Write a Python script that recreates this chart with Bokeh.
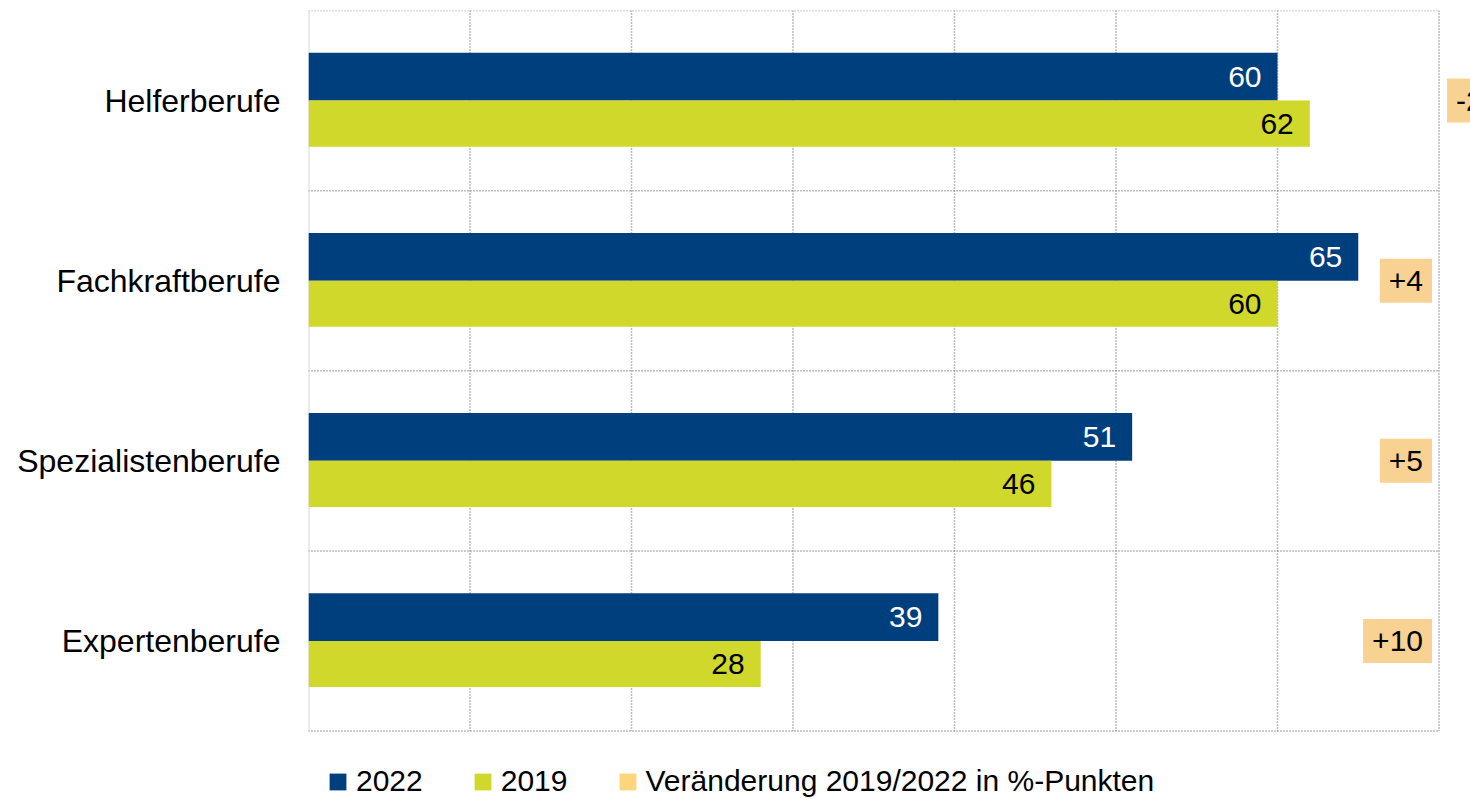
from bokeh.plotting import figure
from bokeh.models import Range1d, FixedTicker, ColumnDataSource, Legend, LegendItem
from bokeh.transform import dodge
from bokeh.core.properties import value
from bokeh.embed import file_html
from bokeh.resources import INLINE

# ---- data ----
categories = ["Helferberufe", "Fachkraftberufe", "Spezialistenberufe", "Expertenberufe"]
values_2022 = [60, 65, 51, 39]
values_2019 = [62, 60, 46, 28]
change_pp = [-2, 4, 5, 10]
x_ticks = [0, 10, 20, 30, 40, 50, 60, 70]
legend_labels = ["2022", "2019", "Veränderung 2019/2022 in %-Punkten"]

# ---- style ----
FONT = "Liberation Sans"
BLUE = "#003f7d"
GREEN = "#d0d82c"
BOX = "#f8d292"
LEG_BOX = "#fdd57c"
GRID = "#7c7c7c"
W, H = 1470, 799
LEFT, TOP = 308, 10
PX_PER_X = 16.15      # pixels per x unit
PX_PER_ROW = 180.125  # pixels per category row
# placement style for change boxes (first box sits outside the plot area)
box_align = ["left", "right", "right", "right"]
box_offset = [8, -7, -7, -7]

n = len(categories)
pos = [i + 0.5 for i in range(n)]
x_max = x_ticks[-1]

src = ColumnDataSource(dict(
    y=pos,
    v22=values_2022,
    v19=values_2019,
    l22=[str(v) for v in values_2022],
    l19=[str(v) for v in values_2019],
    chg=[f"{c:+d}" for c in change_pp],
    xc=[x_max] * n,
    align=box_align,
    xoff=box_offset,
))

p = figure(
    width=W, height=H,
    x_range=Range1d(0, (W - LEFT) / PX_PER_X),
    y_range=Range1d((H - TOP) / PX_PER_ROW, 0),
    output_backend="svg", toolbar_location=None,
    min_border_left=LEFT, min_border_right=0, min_border_top=TOP, min_border_bottom=0,
)
p.outline_line_color = None
p.xgrid.visible = False
p.ygrid.visible = False
p.xaxis.visible = False

# grid lines (dotted)
p.segment(x0=x_ticks[1:], x1=x_ticks[1:], y0=[0] * (len(x_ticks) - 1), y1=[n] * (len(x_ticks) - 1),
          line_color=GRID, line_width=1.5, line_dash="1 2")
p.segment(x0=[0] * (n + 1), x1=[x_max] * (n + 1), y0=list(range(n + 1)), y1=list(range(n + 1)),
          line_color=GRID, line_width=1.5, line_dash="1 2")
# left axis line
p.segment(x0=[0], x1=[0], y0=[0], y1=[n], line_color="#d6d6d6", line_width=2)

# y axis (category labels)
p.yaxis.ticker = FixedTicker(ticks=pos)
p.yaxis.major_label_overrides = {pp: c for pp, c in zip(pos, categories)}
p.yaxis.major_tick_line_color = None
p.yaxis.minor_tick_line_color = None
p.yaxis.axis_line_color = None
p.yaxis.major_label_standoff = 22
p.yaxis.major_label_text_font = FONT
p.yaxis.major_label_text_font_size = "32px"
p.yaxis.major_label_text_color = "#000000"

# bars
r22 = p.hbar(y=dodge("y", -0.1325, range=p.y_range), left=0, right="v22", height=0.265,
             source=src, fill_color=BLUE, line_color=None)
r19 = p.hbar(y=dodge("y", 0.128, range=p.y_range), left=0, right="v19", height=0.256,
             source=src, fill_color=GREEN, line_color=None)
# zero-size proxy so the legend can show the change-box colour
rchg = p.hbar(y="y", left="xc", right="xc", height=0, source=src,
              fill_color=LEG_BOX, line_color=None)

# value labels
p.text(x="v22", y=dodge("y", -0.1325, range=p.y_range), text="l22", source=src,
       x_offset=-16, text_align="right", text_baseline="middle", text_color="white",
       text_font=value(FONT), text_font_size="30px")
p.text(x="v19", y=dodge("y", 0.128, range=p.y_range), text="l19", source=src,
       x_offset=-16, text_align="right", text_baseline="middle", text_color="black",
       text_font=value(FONT), text_font_size="30px")

# change boxes
p.text(x="xc", y="y", text="chg", source=src, x_offset="xoff", text_align="align",
       text_baseline="middle", text_color="black", text_font=value(FONT), text_font_size="30px",
       background_fill_color=BOX, padding=dict(left=9, right=9, top=12, bottom=12))

legend = Legend(
    items=[LegendItem(label=legend_labels[0], renderers=[r22]),
           LegendItem(label=legend_labels[1], renderers=[r19]),
           LegendItem(label=legend_labels[2], renderers=[rchg])],
    orientation="horizontal", location=(19, 1),
    glyph_width=21, glyph_height=21, label_standoff=8, spacing=49,
    padding=0, margin=0, border_line_color=None, background_fill_alpha=0,
    label_text_font=FONT, label_text_font_size="30px", label_text_color="black",
)
p.add_layout(legend, "center")

open("out.html", "w").write(file_html(p, INLINE))
